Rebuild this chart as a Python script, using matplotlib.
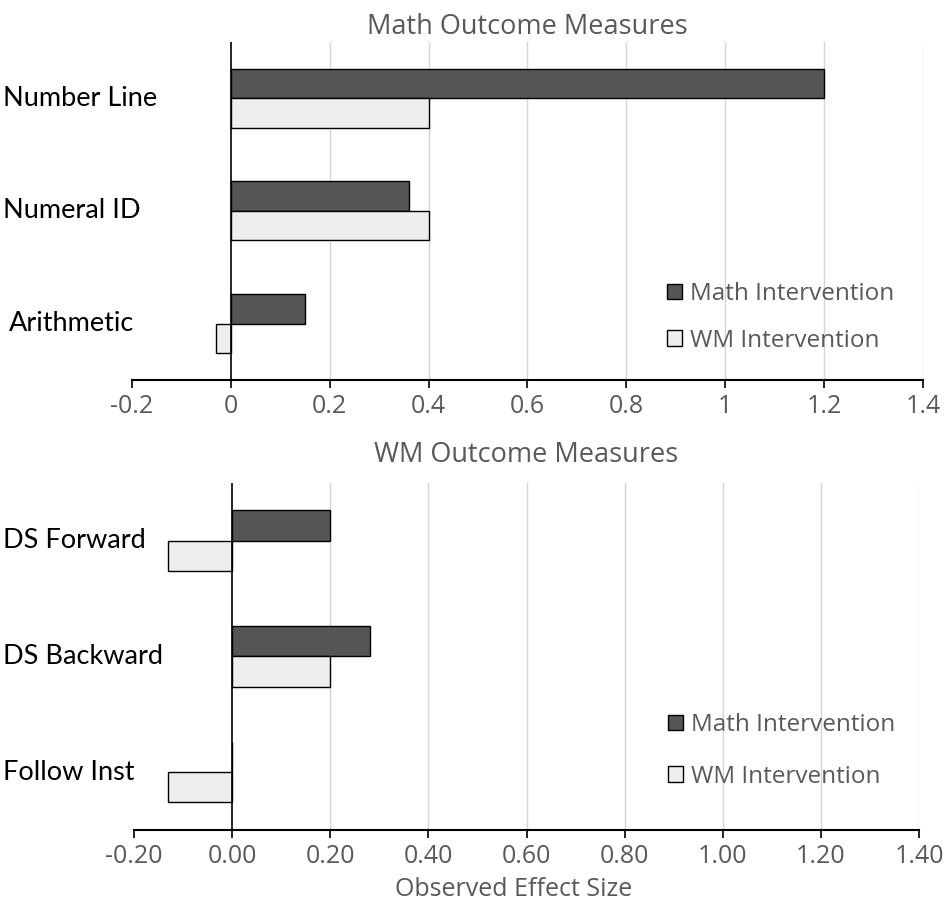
import numpy as np
import matplotlib.pyplot as plt
import matplotlib.transforms as mtransforms

# effect sizes
math_cats = ['Number Line', 'Numeral ID', 'Arithmetic']
math_math = [1.20, 0.36, 0.15]
math_wm = [0.40, 0.40, -0.03]

wm_cats = ['DS Forward', 'DS Backward', 'Follow Inst']
wm_math = [0.20, 0.28, 0.0]
wm_wm = [-0.13, 0.20, -0.13]

top_ticks = ['-0.2', '0', '0.2', '0.4', '0.6', '0.8', '1', '1.2', '1.4']
bot_ticks = ['-0.20', '0.00', '0.20', '0.40', '0.60', '0.80', '1.00', '1.20', '1.40']
tick_vals = [-0.2, 0.0, 0.2, 0.4, 0.6, 0.8, 1.0, 1.2, 1.4]

DARK = '#555555'
LIGHT = '#eeeeee'
GREY_TXT = '#595959'
TICK_FONT = 'Open Sans'
CAT_FONT = 'Lato'

fig = plt.figure(figsize=(9.45, 9.0), dpi=100)


def panel(rect, cats, s_math, s_wm, ticklabels, title, title_pad, leg_xy, leg_space, cat_offsets):
    ax = fig.add_axes(rect)
    n = len(cats)
    y = np.arange(n)[::-1].astype(float)
    h = 0.262
    ax.barh(y + h / 2, s_math, height=h, color=DARK, edgecolor='black', linewidth=1,
            label='Math Intervention', zorder=3)
    ax.barh(y - h / 2, s_wm, height=h, color=LIGHT, edgecolor='black', linewidth=1,
            label='WM Intervention', zorder=3)
    ax.set_xlim(-0.2, 1.4)
    ax.set_ylim(-0.5, n - 0.5)
    for v in tick_vals[2:]:
        ax.axvline(v, color='#d4d4d4', linewidth=1, zorder=1)
    ax.axvline(0, color='black', linewidth=1.2, zorder=4)
    for s in ['left', 'right', 'top']:
        ax.spines[s].set_visible(False)
    ax.spines['bottom'].set_linewidth(1.5)
    ax.set_yticks([])
    ax.set_xticks(tick_vals)
    ax.set_xticklabels(ticklabels, fontsize=18, color=GREY_TXT, family=TICK_FONT)
    ax.tick_params(axis='x', direction='out', length=6, width=1.2, pad=4)
    ax.set_title(title, fontsize=19.5, color=GREY_TXT, family=TICK_FONT, pad=title_pad)
    # category labels sit at the left edge of the figure
    trans = mtransforms.blended_transform_factory(fig.transFigure, ax.transData)
    for yy, c, off in zip(y, cats, cat_offsets):
        ax.text(0.003 + off, yy, c, transform=trans, ha='left', va='center',
                fontsize=19.5, family=CAT_FONT, color='black')
    ax.legend(loc='upper left', bbox_to_anchor=leg_xy, bbox_transform=fig.transFigure,
              frameon=False, prop={'family': TICK_FONT, 'size': 17.5},
              handlelength=0.6, handleheight=0.6, handletextpad=0.35,
              labelspacing=leg_space, borderpad=0, labelcolor=GREY_TXT)
    return ax


ax1 = panel([0.1397, 0.5778, 0.837, 0.3756], math_cats, math_math, math_wm,
            top_ticks, 'Math Outcome Measures', 6, (0.693, 0.700), 0.93, [0, 0, 0.006])
ax2 = panel([0.1418, 0.0778, 0.8307, 0.3856], wm_cats, wm_math, wm_wm,
            bot_ticks, 'WM Outcome Measures', 15, (0.694, 0.221), 1.13, [0, 0, 0])
ax2.set_xlabel('Observed Effect Size', fontsize=18, color=GREY_TXT, family=TICK_FONT)
ax2.xaxis.set_label_coords(0.483, -0.135)

fig.savefig('out.png', dpi=100)
